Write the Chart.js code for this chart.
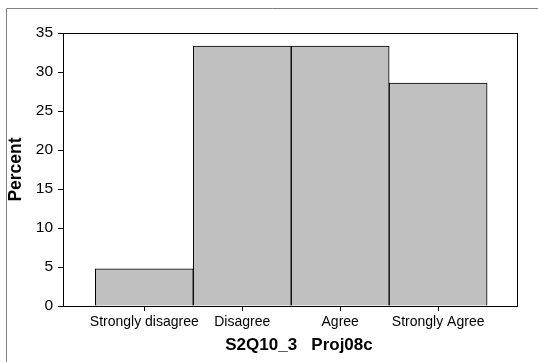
<!DOCTYPE html>
<html>
<head>
<meta charset="utf-8">
<script src="https://cdn.jsdelivr.net/npm/chart.js@4"></script>
<style>
html,body{margin:0;padding:0;background:#fff;}
#wrap{position:relative;width:538px;height:362px;}
canvas{display:block;}
</style>
</head>
<body>
<div id="wrap"><canvas id="c" width="538" height="362"></canvas></div>
<script>
const categories = ["Strongly disagree", "Disagree", "Agree", "Strongly Agree"];
const percentValues = [4.76, 33.33, 33.33, 28.57];
const yTicks = [0, 5, 10, 15, 20, 25, 30, 35];
const xTitle = "S2Q10_3   Proj08c";
const yTitle = "Percent";

const FONT = "'Liberation Sans', Arial, sans-serif";
const X_TITLE_SHIFT = 9;

const framePlugin = {
  id: 'frame',
  beforeDraw(chart) {
    const ctx = chart.ctx;
    const sx = chart.scales.x;
    if (sx && !sx._titleShifted) {
      const orig = sx.drawTitle.bind(sx);
      sx.drawTitle = function () {
        ctx.save();
        ctx.translate(X_TITLE_SHIFT, 0);
        orig();
        ctx.restore();
      };
      sx._titleShifted = true;
    }
    ctx.save();
    ctx.fillStyle = '#fff';
    ctx.fillRect(0, 0, chart.width, chart.height);
    ctx.strokeStyle = '#808080';
    ctx.lineWidth = 1;
    ctx.beginPath();
    ctx.moveTo(6.5, chart.height);
    ctx.lineTo(6.5, 8.5);
    ctx.lineTo(chart.width, 8.5);
    ctx.stroke();
    ctx.restore();
  },
  afterDatasetsDraw(chart) {
    const a = chart.chartArea;
    const ctx = chart.ctx;
    ctx.save();
    ctx.strokeStyle = '#000';
    ctx.lineWidth = 1;
    ctx.strokeRect(Math.round(a.left) + 0.5, Math.round(a.top) + 0.5,
      Math.round(a.right - a.left), Math.round(a.bottom - a.top));
    ctx.restore();
  }
};

new Chart(document.getElementById('c'), {
  type: 'bar',
  data: {
    datasets: [{
      data: categories.map((c, i) => ({x: i + 1, y: percentValues[i]})),
      backgroundColor: '#c0c0c0',
      borderColor: '#000000',
      borderWidth: 1,
      barPercentage: 1,
      categoryPercentage: 1
    }]
  },
  options: {
    responsive: false,
    animation: false,
    devicePixelRatio: 1,
    layout: {padding: {top: 33, right: 21, left: 0, bottom: 0}},
    plugins: {legend: {display: false}, tooltip: {enabled: false}},
    scales: {
      x: {
        type: 'linear',
        offset: false,
        min: 0.17,
        max: 4.805,
        afterFit(s) { s.height = 56; },
        afterBuildTicks(s) { s.ticks = categories.map((c, i) => ({value: i + 1})); },
        ticks: {
          autoSkip: false, maxRotation: 0, padding: 3,
          color: '#000', font: {family: FONT, size: 14},
          callback: (v) => categories[v - 1] ?? ''
        },
        grid: {drawOnChartArea: false, drawTicks: true, tickLength: 5, color: '#000', offset: false},
        border: {display: true, color: '#000'},
        title: {display: true, text: xTitle, color: '#000',
          font: {family: FONT, size: 17, weight: 'bold'}, padding: {top: 0, bottom: 6}}
      },
      y: {
        min: 0,
        max: 35,
        afterFit(s) { s.width = 63; },
        afterBuildTicks(s) { s.ticks = yTicks.map(v => ({value: v})); },
        ticks: {color: '#000', padding: 5, font: {family: FONT, size: 15.5}},
        grid: {drawOnChartArea: false, drawTicks: true, tickLength: 5, color: '#000'},
        border: {display: true, color: '#000'},
        title: {display: true, text: yTitle, color: '#000',
          font: {family: FONT, size: 17.5, weight: 'bold'}, padding: {top: 6, bottom: 0}}
      }
    }
  },
  plugins: [framePlugin]
});
</script>
</body>
</html>
